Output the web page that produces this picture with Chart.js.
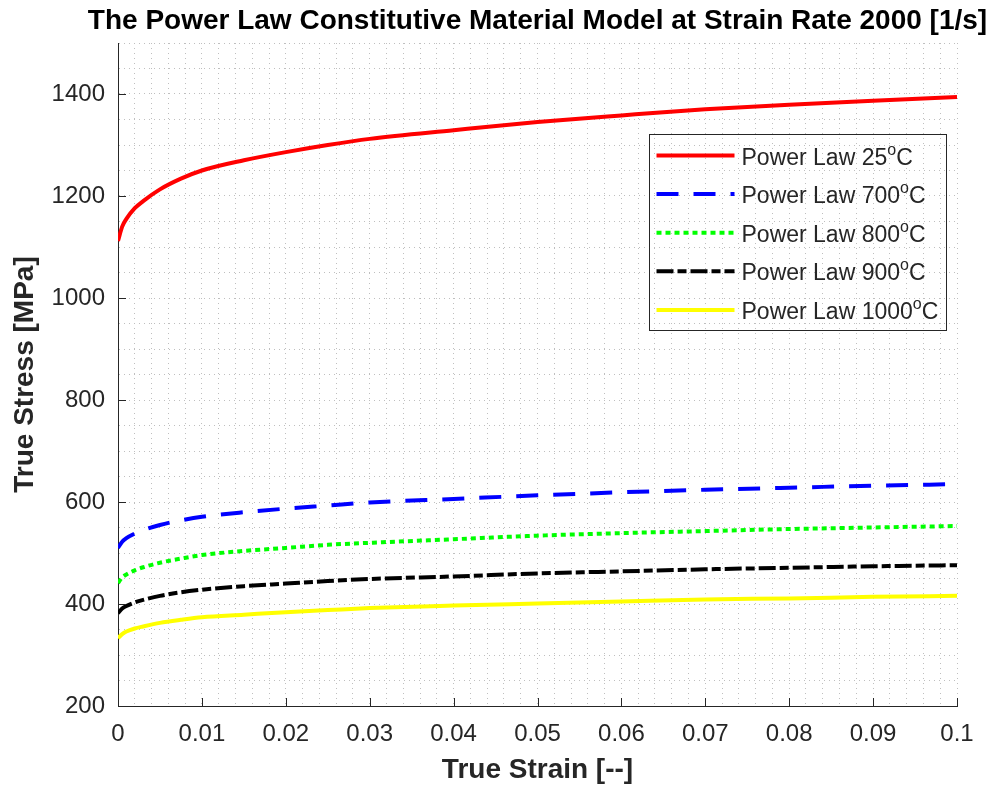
<!DOCTYPE html>
<html>
<head>
<meta charset="utf-8">
<title>Power Law Constitutive Model</title>
<script src="https://cdn.jsdelivr.net/npm/chart.js@4.4.1/dist/chart.umd.min.js"></script>
<style>
  html, body { margin: 0; padding: 0; background: #fff; }
  #wrap { width: 998px; height: 787px; position: relative; }
</style>
</head>
<body>
<div id="wrap"><canvas id="chart"></canvas></div>
<script>
// strain values (x)
const strain = [0, 0.0005, 0.001, 0.002, 0.003, 0.005, 0.0075, 0.01, 0.015, 0.02, 0.025, 0.03, 0.04, 0.05, 0.06, 0.07, 0.08, 0.09, 0.1];

// true stress [MPa], one array per temperature
const stress25   = [1112, 1140, 1155, 1176, 1190, 1213, 1234, 1250, 1270, 1286, 1300, 1312, 1329, 1345, 1358, 1370, 1379, 1387, 1394];
const stress700  = [510, 522, 529, 538, 545, 555, 564, 571, 580, 587, 593, 599, 606, 613, 619, 624, 628, 632, 635];
const stress800  = [441, 452, 458, 466, 472, 481, 489, 496, 504, 510, 516, 520, 527, 534, 539, 543, 547, 550, 553];
const stress900  = [382, 391, 396, 403, 408, 416, 423, 428, 435, 440, 445, 449, 454, 460, 464, 468, 471, 474, 476];
const stress1000 = [333, 341, 346, 352, 356, 363, 369, 374, 379, 384, 388, 392, 397, 401, 405, 409, 411, 414, 416];

const temps = [25, 700, 800, 900, 1000];
const xTicks = [0, 0.01, 0.02, 0.03, 0.04, 0.05, 0.06, 0.07, 0.08, 0.09, 0.1];
const yTicks = [200, 400, 600, 800, 1000, 1200, 1400];

const titleText = "The Power Law Constitutive Material Model at Strain Rate 2000 [1/s]";
const axisColor = "#262626";
const FONT = "'Liberation Sans', Arial, Helvetica, sans-serif";

function pts(ys) {
  return strain.map((x, i) => ({ x: x, y: ys[i] }));
}

const series = [
  { temp: temps[0], values: stress25,   color: "#ff0000", dash: [] },
  { temp: temps[1], values: stress700,  color: "#0000ff", dash: [22, 15] },
  { temp: temps[2], values: stress800,  color: "#00ff00", dash: [5, 4] },
  { temp: temps[3], values: stress900,  color: "#000000", dash: [17, 4, 9, 4] },
  { temp: temps[4], values: stress1000, color: "#ffff00", dash: [] }
];

// inward tick marks like the original figure
const innerTicks = {
  id: "innerTicks",
  afterDatasetsDraw(chart) {
    const { ctx, chartArea, scales } = chart;
    ctx.save();
    ctx.strokeStyle = axisColor;
    ctx.lineWidth = 1;
    ctx.beginPath();
    xTicks.forEach(v => {
      const x = Math.round(scales.x.getPixelForValue(v)) + 0.5;
      ctx.moveTo(x, chartArea.bottom);
      ctx.lineTo(x, chartArea.bottom - 8);
    });
    yTicks.forEach(v => {
      const y = Math.round(scales.y.getPixelForValue(v)) + 0.5;
      ctx.moveTo(chartArea.left, y);
      ctx.lineTo(chartArea.left + 8, y);
    });
    ctx.stroke();
    ctx.restore();
  }
};

// title centred over the axes (it is wider than the plot box)
const axesTitle = {
  id: "axesTitle",
  afterDraw(chart) {
    const { ctx, chartArea } = chart;
    ctx.save();
    ctx.font = "bold 28px " + FONT;
    ctx.fillStyle = "#000";
    ctx.textAlign = "center";
    ctx.textBaseline = "middle";
    ctx.fillText(titleText, (chartArea.left + chartArea.right) / 2, 21);
    ctx.restore();
  }
};

// legend box inside the axes, with superscript "o" for degrees
const boxLegend = {
  id: "boxLegend",
  afterDraw(chart) {
    const { ctx, chartArea } = chart;
    const big = "23px " + FONT;
    const small = "16px " + FONT;
    ctx.save();
    let maxW = 0;
    series.forEach(s => {
      ctx.font = big;
      let w = ctx.measureText("Power Law " + s.temp).width + ctx.measureText("C").width;
      ctx.font = small;
      w += ctx.measureText("o").width;
      maxW = Math.max(maxW, w);
    });
    const lineLen = 78;
    const boxW = 7 + lineLen + 7 + maxW + 8;
    const boxH = 196;
    const right = chartArea.right - 11;
    const left = Math.round(right - boxW) + 0.5;
    const top = Math.round(chartArea.top + 91) + 0.5;
    ctx.strokeStyle = axisColor;
    ctx.lineWidth = 1;
    ctx.strokeRect(left, top, Math.round(boxW), boxH);

    series.forEach((s, i) => {
      const y = top + 21 + i * 38.6;
      ctx.save();
      ctx.strokeStyle = s.color;
      ctx.lineWidth = 4;
      ctx.setLineDash(s.dash);
      ctx.beginPath();
      ctx.moveTo(left + 7, y);
      ctx.lineTo(left + 7 + lineLen, y);
      ctx.stroke();
      ctx.restore();

      ctx.fillStyle = axisColor;
      ctx.textBaseline = "alphabetic";
      let tx = left + 7 + lineLen + 7;
      const base = y + 9;
      ctx.font = big;
      const t1 = "Power Law " + s.temp;
      ctx.fillText(t1, tx, base);
      tx += ctx.measureText(t1).width;
      ctx.font = small;
      ctx.fillText("o", tx, base - 10);
      tx += ctx.measureText("o").width;
      ctx.font = big;
      ctx.fillText("C", tx, base);
    });
    ctx.restore();
  }
};

new Chart(document.getElementById("chart"), {
  type: "line",
  data: {
    datasets: series.map(s => ({
      label: "Power Law " + s.temp + "°C",
      data: pts(s.values),
      borderColor: s.color,
      backgroundColor: s.color,
      borderWidth: 4,
      borderDash: s.dash,
      pointRadius: 0,
      fill: false,
      cubicInterpolationMode: "monotone"
    }))
  },
  options: {
    responsive: true,
    maintainAspectRatio: false,
    animation: false,
    layout: { padding: { left: 0, right: 41, top: 43, bottom: 0 } },
    plugins: {
      legend: { display: false },
      tooltip: { enabled: false },
      title: { display: false }
    },
    scales: {
      x: {
        type: "linear",
        min: 0,
        max: 0.1,
        afterFit: s => { s.height = 81; },
        afterBuildTicks: s => {
          const t = [];
          for (let i = 0; i <= 50; i++) t.push({ value: i * 0.002 });
          s.ticks = t;
        },
        ticks: {
          autoSkip: false,
          maxRotation: 0,
          color: axisColor,
          padding: 14,
          font: { family: FONT, size: 24 },
          callback: v => {
            const k = Math.round(v * 1000);
            if (k % 10 !== 0) return "";
            return String(k / 1000);
          }
        },
        grid: { color: "#bfbfbf", lineWidth: 1, drawTicks: false },
        border: { display: true, color: axisColor, width: 1, dash: [1, 4] },
        title: {
          display: true,
          text: "True Strain [--]",
          color: axisColor,
          font: { family: FONT, size: 28, weight: "bold", lineHeight: 1.2 },
          padding: { top: 0, bottom: 0 }
        }
      },
      y: {
        type: "linear",
        min: 200,
        max: 1500,
        afterFit: s => { s.width = 118; },
        afterBuildTicks: s => {
          const t = [];
          for (let v = 200; v <= 1500; v += 50) t.push({ value: v });
          s.ticks = t;
        },
        ticks: {
          autoSkip: false,
          color: axisColor,
          padding: 13,
          font: { family: FONT, size: 24 },
          callback: v => (v % 200 === 0 && v <= 1400 ? String(v) : "")
        },
        grid: { color: "#bfbfbf", lineWidth: 1, drawTicks: false },
        border: { display: true, color: axisColor, width: 1, dash: [1, 4] },
        title: {
          display: true,
          text: "True Stress [MPa]",
          color: axisColor,
          font: { family: FONT, size: 28, weight: "bold", lineHeight: 1.2 },
          padding: { top: 8, bottom: 0 }
        }
      }
    }
  },
  plugins: [innerTicks, axesTitle, boxLegend]
});
</script>
</body>
</html>
